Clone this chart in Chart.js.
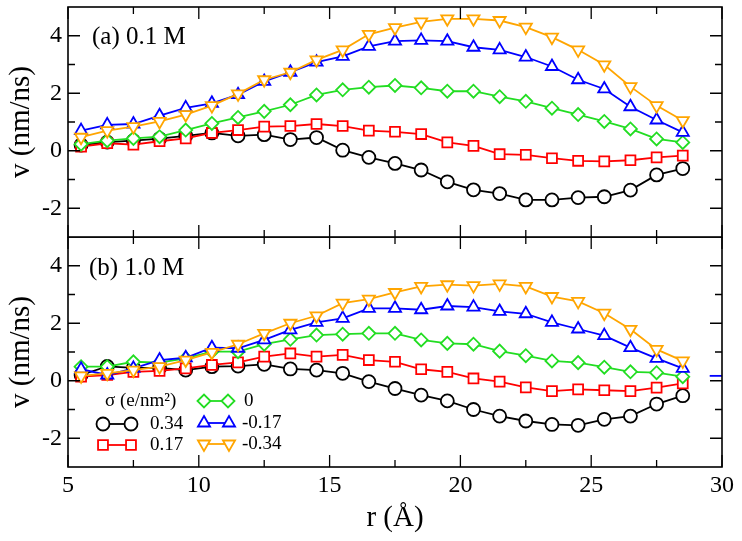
<!DOCTYPE html>
<html><head><meta charset="utf-8">
<script src="https://cdn.jsdelivr.net/npm/chart.js@4/dist/chart.umd.min.js"></script>
<style>
html,body{margin:0;padding:0;background:#fff;}
#wrap{position:relative;width:742px;height:541px;background:#fff;}
#c1{position:absolute;left:0;top:0;}
#c2{position:absolute;left:0;top:237px;}
</style></head><body>
<div id="wrap"><canvas id="c1" width="742" height="240"></canvas><canvas id="c2" width="742" height="304"></canvas></div>
<script>
// ---- data ----
const r = [5.5,6.5,7.5,8.5,9.5,10.5,11.5,12.5,13.5,14.5,15.5,16.5,17.5,18.5,19.5,20.5,21.5,22.5,23.5,24.5,25.5,26.5,27.5,28.5];
const seriesLabels = ['0.34','0.17','0','-0.17','-0.34'];
const legendTitle = 'σ (e/nm²)';
const panelLabels = ['(a) 0.1 M','(b) 1.0 M'];
// (a) 0.1 M
const a034  = [0.2,0.3,0.35,0.42,0.52,0.62,0.52,0.56,0.39,0.46,0.02,-0.23,-0.44,-0.67,-1.08,-1.36,-1.49,-1.71,-1.71,-1.63,-1.6,-1.37,-0.84,-0.62];
const a017  = [0.14,0.26,0.21,0.33,0.43,0.62,0.72,0.84,0.86,0.93,0.86,0.7,0.66,0.58,0.29,0.17,-0.12,-0.14,-0.26,-0.35,-0.37,-0.33,-0.23,-0.17];
const a0    = [0.23,0.35,0.43,0.49,0.72,0.95,1.16,1.37,1.6,1.94,2.12,2.21,2.27,2.19,2.07,2.07,1.88,1.72,1.48,1.26,1.02,0.76,0.41,0.29];
const am017 = [0.7,0.9,0.93,1.22,1.49,1.65,1.95,2.41,2.73,3.08,3.28,3.63,3.81,3.84,3.81,3.6,3.51,3.26,2.93,2.47,2.15,1.53,1.07,0.64];
const am034 = [0.47,0.7,0.84,1.02,1.26,1.57,1.98,2.47,2.73,3.16,3.51,4.05,4.28,4.48,4.59,4.59,4.53,4.3,3.95,3.51,2.99,2.23,1.57,1.05];
// (b) 1.0 M
const b034  = [0.2,0.5,0.45,0.45,0.37,0.49,0.51,0.57,0.41,0.37,0.26,-0.03,-0.27,-0.5,-0.7,-1.0,-1.23,-1.4,-1.52,-1.55,-1.34,-1.23,-0.81,-0.52];
const b017  = [0.14,0.2,0.31,0.34,0.43,0.55,0.64,0.84,0.95,0.84,0.9,0.72,0.66,0.4,0.31,0.08,-0.03,-0.23,-0.36,-0.3,-0.33,-0.36,-0.24,-0.09];
const b0    = [0.49,0.49,0.66,0.63,0.78,1.01,1.01,1.27,1.44,1.59,1.62,1.65,1.65,1.42,1.3,1.27,1.03,0.87,0.69,0.63,0.47,0.31,0.28,0.14];
const bm017 = [0.4,0.2,0.43,0.72,0.8,1.15,1.13,1.42,1.77,2.03,2.17,2.52,2.52,2.47,2.6,2.56,2.41,2.33,2.03,1.8,1.57,1.15,0.78,0.43];
const bm034 = [0.17,0.26,0.37,0.49,0.72,0.99,1.27,1.65,2.0,2.26,2.7,2.84,3.07,3.28,3.34,3.31,3.37,3.28,2.93,2.76,2.35,1.79,1.09,0.69];
const stubR = [29.53,30];
const stubV = [0.17,0.17];
// ticks
const xMajorTicks = [5,10,15,20,25,30];
const xMinorTicks = [7.5,12.5,17.5,22.5,27.5];
const yMajorTicks = [-2,0,2,4];
const yMinorTicks = [-1,1,3];

// ---- styling ----
const FAMILY = "Liberation Serif";
const FONT = "'Liberation Serif', serif";
Chart.defaults.font.family = FAMILY;
Chart.defaults.color = '#000';
const styles = [
  {color:'#000000', pointStyle:'circle',  rot:0,   radius:6.5, order:4},
  {color:'#ff0000', pointStyle:'rect',    rot:0,   radius:7,   order:3},
  {color:'#22dd22', pointStyle:'rectRot', rot:0,   radius:6.5, order:2},
  {color:'#0000ff', pointStyle:'triangle',rot:0,   radius:7,   order:1},
  {color:'#ffa500', pointStyle:'triangle',rot:180, radius:7,   order:0}
];
function mk(i, vals){
  const s = styles[i];
  return {label: seriesLabels[i], data: r.map((x,k)=>({x, y: vals[k]})),
    borderColor: s.color, backgroundColor:'#fff', pointBackgroundColor:'#fff', pointBorderColor:s.color,
    pointStyle:s.pointStyle, pointRotation:s.rot, pointRadius:s.radius, pointBorderWidth:1.8,
    borderWidth:1.8, order:s.order, tension:0, fill:false};
}

function drawMarker(ctx, style, x, y){
  if (Chart.helpers && Chart.helpers.drawPoint){
    Chart.helpers.drawPoint(ctx, {pointStyle:style.pointStyle, rotation:style.rot, radius:style.radius, borderWidth:1.8}, x, y);
  } else {
    ctx.beginPath(); ctx.arc(x,y,style.radius,0,Math.PI*2); ctx.fill(); ctx.stroke();
  }
}

const frameTicks = {
  id:'frameTicks',
  afterDraw(chart, args, opts){
    const {ctx, chartArea:a} = chart;
    const x = chart.scales.x, y = chart.scales.y;
    ctx.save();
    ctx.strokeStyle='#000';
    ctx.lineWidth=1.3;
    ctx.beginPath();
    const tx = (v,len)=>{const p=x.getPixelForValue(v); ctx.moveTo(p,a.bottom); ctx.lineTo(p,a.bottom-len); ctx.moveTo(p,a.top); ctx.lineTo(p,a.top+len);};
    const ty = (v,len)=>{const p=y.getPixelForValue(v); ctx.moveTo(a.left,p); ctx.lineTo(a.left+len,p); ctx.moveTo(a.right,p); ctx.lineTo(a.right-len,p);};
    xMajorTicks.forEach(v=>tx(v,12)); xMinorTicks.forEach(v=>tx(v,7));
    yMajorTicks.forEach(v=>ty(v,12)); yMinorTicks.forEach(v=>ty(v,7));
    ctx.stroke();
    ctx.lineWidth=1.6;
    ctx.strokeRect(a.left, a.top, a.right-a.left, a.bottom-a.top);
    // panel label
    ctx.fillStyle='#000';
    ctx.font = "25px "+FONT;
    ctx.textBaseline='middle'; ctx.textAlign='left';
    ctx.fillText(opts.label, a.left+opts.dx, a.top+opts.dy);
    // legend
    if (opts.legend){
      // [x1, x2, y, textX] relative to chart area, per dataset index
      const pos = {0:[35,63,187,82], 1:[35,63,208,82], 2:[136,160,164,176], 3:[136,161,186,174], 4:[136,161,207,174]};
      ctx.font = "19px "+FONT;
      ctx.textBaseline='middle';
      ctx.fillText(legendTitle, a.left+37, a.top+164);
      chart.data.datasets.forEach((d,i)=>{
        const p = pos[i]; if(!p) return;
        const s = styles[i];
        const yy = a.top+p[2];
        ctx.strokeStyle=s.color; ctx.lineWidth=1.8;
        ctx.beginPath(); ctx.moveTo(a.left+p[0],yy); ctx.lineTo(a.left+p[1],yy); ctx.stroke();
        ctx.fillStyle='#fff';
        drawMarker(ctx,s,a.left+p[0],yy);
        drawMarker(ctx,s,a.left+p[1],yy);
        ctx.fillStyle='#000';
        ctx.fillText(d.label, a.left+p[3], yy);
      });
    }
    ctx.restore();
  }
};

function yScale(){
  return {type:'linear', min:-3, max:5,
    afterBuildTicks: s=>{ s.ticks = yMajorTicks.map(v=>({value:v})); },
    afterFit: s=>{ s.width = 68; s.paddingTop = 0; s.paddingBottom = 0; },
    grid:{display:false, drawTicks:false}, border:{display:false},
    ticks:{font:{size:24, family:FAMILY}, color:'#000', padding:6},
    title:{display:true, text:'v (nm/ns)', font:{size:29, family:FAMILY}, color:'#000', padding:{top:4,bottom:0}}
  };
}

const common = {responsive:false, animation:false, events:[]};

new Chart(document.getElementById('c1'), {
  type:'line',
  data:{datasets:[mk(0,a034),mk(1,a017),mk(2,a0),mk(3,am017),mk(4,am034)]},
  options:Object.assign({}, common, {
    layout:{autoPadding:false, padding:{left:0,right:20,top:7,bottom:3}},
    scales:{x:{type:'linear',min:5,max:30,display:false, afterFit: s=>{s.paddingLeft=0; s.paddingRight=0;}}, y:yScale()},
    plugins:{legend:{display:false}, tooltip:{enabled:false}, frameTicks:{label:panelLabels[0], dx:24, dy:30, legend:false}}
  }),
  plugins:[frameTicks]
});

const stub = {label:'', data: stubR.map((x,k)=>({x,y:stubV[k]})), borderColor:'#0000ff', borderWidth:1.8, pointRadius:0, order:5, fill:false};

new Chart(document.getElementById('c2'), {
  type:'line',
  data:{datasets:[mk(0,b034),mk(1,b017),mk(2,b0),mk(3,bm017),mk(4,bm034), stub]},
  options:Object.assign({}, common, {
    layout:{autoPadding:false, padding:{left:0,right:20,top:0,bottom:0}},
    scales:{
      x:{type:'linear',min:5,max:30,
        afterBuildTicks: s=>{ s.ticks = xMajorTicks.map(v=>({value:v})); },
        afterFit: s=>{ s.height = 74; s.paddingLeft = 0; s.paddingRight = 0; },
        grid:{display:false, drawTicks:false}, border:{display:false},
        ticks:{font:{size:24, family:FAMILY}, color:'#000', padding:4, maxRotation:0, autoSkip:false},
        title:{display:true, text:'r (Å)', font:{size:29, family:FAMILY}, color:'#000', padding:{top:0,bottom:5}}
      },
      y:yScale()
    },
    plugins:{legend:{display:false}, tooltip:{enabled:false}, frameTicks:{label:panelLabels[1], dx:21, dy:31, legend:true}}
  }),
  plugins:[frameTicks]
});
</script>
</body></html>
